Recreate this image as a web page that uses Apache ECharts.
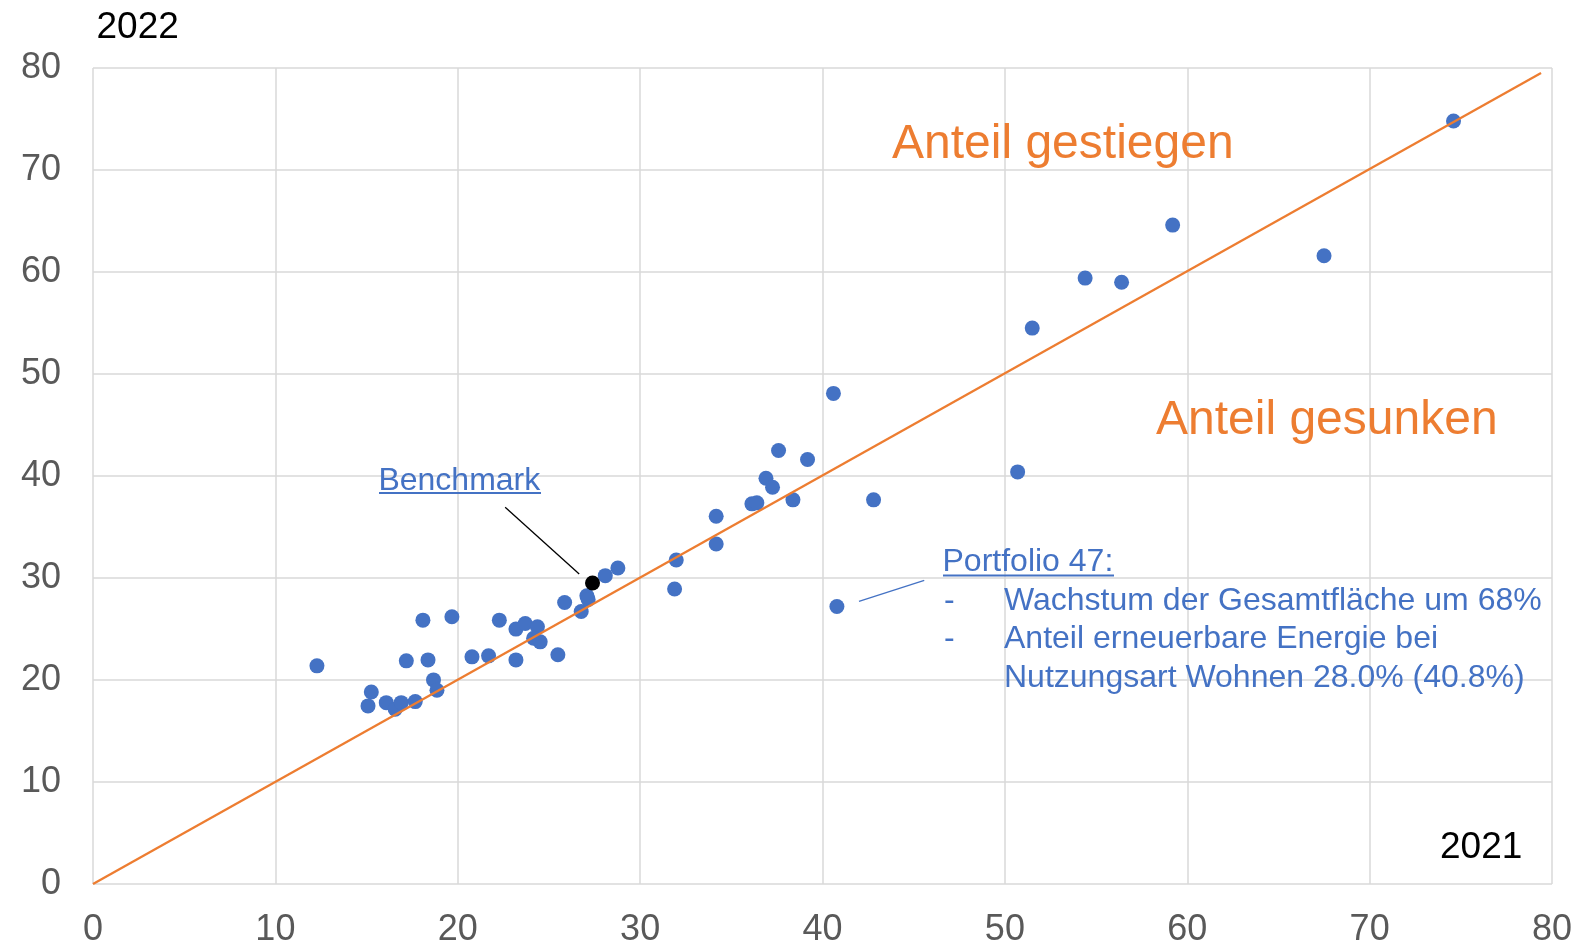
<!DOCTYPE html>
<html>
<head>
<meta charset="utf-8">
<script src="https://cdn.jsdelivr.net/npm/echarts@6/dist/echarts.min.js"></script>
<style>
html,body{margin:0;padding:0;background:#fff;}
#chart{width:1575px;height:944px;}
</style>
</head>
<body>
<div id="chart"></div>
<script>
// Anteil 2021 (x) and 2022 (y) per portfolio
const share2021 = [12.28,15.26,15.08,16.08,16.57,16.90,17.67,17.18,18.09,18.37,18.67,18.86,19.68,20.78,21.69,22.28,23.19,23.19,23.70,24.37,24.16,24.52,25.49,25.86,26.77,27.08,27.15,28.09,28.78,31.98,31.89,34.17,34.17,36.13,36.40,36.90,37.26,37.59,38.38,39.18,42.80,40.79,40.60,50.70,51.50,54.40,56.40,59.20,67.50,74.60];
const share2022 = [21.39,18.83,17.46,17.78,17.13,17.78,17.88,21.88,25.87,21.97,20.01,19.00,26.20,22.27,22.37,25.87,21.97,24.99,25.54,25.22,24.10,23.74,22.47,27.60,26.72,28.26,27.90,30.23,30.98,31.77,28.92,36.05,33.34,37.27,37.37,39.78,38.90,42.50,37.66,41.62,37.66,27.21,48.10,40.40,54.50,59.40,59.00,64.60,61.60,74.80];
const benchmark2021 = [27.39];
const benchmark2022 = [29.51];
// Diagonal (unchanged share)
const diagX = [0, 79.4];
const diagY = [0, 79.5];
// Leader lines
const benchLeaderX = [22.6, 26.66];
const benchLeaderY = [36.93, 30.39];
const pfLeaderX = [42.0, 45.58];
const pfLeaderY = [27.7, 29.77];
// Axis
const axisMin = 0, axisMax = 80, axisStep = 10;
const xName = '2021', yName = '2022';
const labelUp = 'Anteil gestiegen';
const labelDown = 'Anteil gesunken';
const benchLabel = 'Benchmark';
const pfLines = ['Portfolio 47:', 'Wachstum der Gesamtfläche um 68%', 'Anteil erneuerbare Energie bei', 'Nutzungsart Wohnen 28.0% (40.8%)'];

const zip = (a, b) => a.map((v, i) => [v, b[i]]);
const FONT = '"Liberation Sans", Arial, sans-serif';
const BLUE = '#4472C4', ORANGE = '#ED7D31';

function txt(text, x, y, size, color) {
  return { type: 'text', x: x, y: y, z: 50,
    style: { text: text, fontSize: size, fontFamily: FONT, fill: color,
      align: 'left', verticalAlign: 'middle', textAlign: 'left', textVerticalAlign: 'middle' } };
}
function uline(x1, x2, y, color) {
  return { type: 'line', z: 50, shape: { x1: x1, y1: y, x2: x2, y2: y }, style: { stroke: color, lineWidth: 1.8 } };
}

const chart = echarts.init(document.getElementById('chart'), null, { renderer: 'canvas' });
chart.setOption({
  animation: false,
  backgroundColor: '#fff',
  grid: { left: 93, right: 23, top: 68, bottom: 60, containLabel: false, outerBoundsMode: 'none' },
  xAxis: {
    type: 'value', min: axisMin, max: axisMax, interval: axisStep,
    axisLine: { show: false }, axisTick: { show: false },
    axisLabel: { fontSize: 36, color: '#595959', fontFamily: FONT, margin: 28 },
    splitLine: { show: true, lineStyle: { color: '#d9d9d9', width: 1.5 } }
  },
  yAxis: {
    type: 'value', min: axisMin, max: axisMax, interval: axisStep,
    axisLine: { show: false }, axisTick: { show: false },
    axisLabel: { fontSize: 36, color: '#595959', fontFamily: FONT, margin: 32, padding: [8, 0, 0, 0] },
    splitLine: { show: true, lineStyle: { color: '#d9d9d9', width: 1.5 } }
  },
  series: [
    { type: 'scatter', data: zip(share2021, share2022), symbolSize: 15, itemStyle: { color: BLUE, opacity: 1 }, z: 3, silent: true },
    { type: 'scatter', data: zip(benchmark2021, benchmark2022), symbolSize: 15, itemStyle: { color: '#000', opacity: 1 }, z: 6, silent: true },
    { type: 'line', data: zip(diagX, diagY), showSymbol: false, symbol: 'none', lineStyle: { color: ORANGE, width: 2.3 }, z: 5, silent: true },
    { type: 'line', data: zip(benchLeaderX, benchLeaderY), showSymbol: false, symbol: 'none', lineStyle: { color: '#000', width: 1.3 }, z: 5, silent: true },
    { type: 'line', data: zip(pfLeaderX, pfLeaderY), showSymbol: false, symbol: 'none', lineStyle: { color: BLUE, width: 1.3 }, z: 5, silent: true }
  ],
  graphic: [
    txt(yName, 96.5, 27.5, 37, '#000'),
    txt(xName, 1440, 847.5, 37, '#000'),
    txt(labelUp, 892, 144.5, 48, ORANGE),
    txt(labelDown, 1156, 421, 48, ORANGE),
    txt(benchLabel, 378.4, 481, 32, BLUE),
    uline(379, 541, 493, BLUE),
    txt(pfLines[0], 942.5, 562, 32, BLUE),
    uline(943, 1114, 575.5, BLUE),
    txt('-', 944, 601.5, 32, BLUE),
    txt(pfLines[1], 1004, 601.5, 32, BLUE),
    txt('-', 944, 639.5, 32, BLUE),
    txt(pfLines[2], 1004, 639.5, 32, BLUE),
    txt(pfLines[3], 1004, 678, 32, BLUE)
  ]
});
</script>
</body>
</html>
